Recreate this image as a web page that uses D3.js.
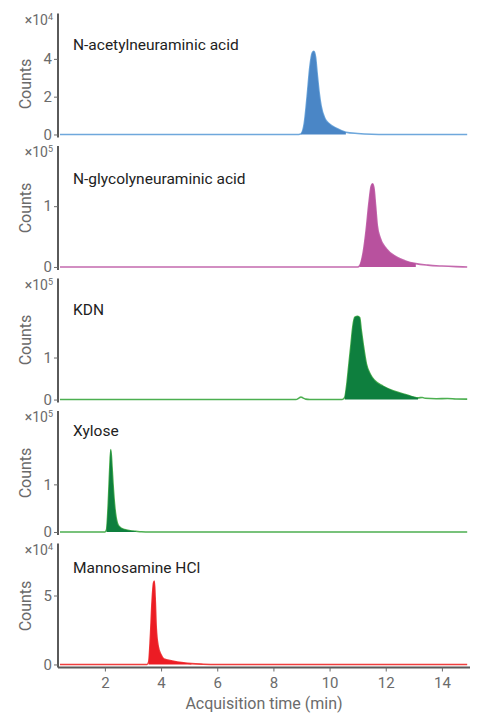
<!DOCTYPE html>
<html>
<head>
<meta charset="utf-8">
<script src="https://cdn.jsdelivr.net/npm/d3@7"></script>
<style>
  body { margin: 0; background: #fff; }
  svg { display: block; font-family: Roboto, "Noto Sans", sans-serif; }
</style>
</head>
<body>
<div id="chart"></div>
<script>
// Chromatogrammes empilés : un panneau par composé

const compounds = [
  "N-acetylneuraminic acid",
  "N-glycolyneuraminic acid",
  "KDN",
  "Xylose",
  "Mannosamine HCl"
];

// exposant du facteur ×10^n de chaque panneau
const exponents = [4, 5, 5, 5, 4];

// domaines Y (en unités ×10^n) et graduations
const yDomains = [[-0.16, 6.4], [-0.05, 1.99], [-0.07, 2.88], [-0.063, 2.54], [-0.22, 8.77]];
const yTicks = [[0, 2, 4], [0, 1], [0, 1], [0, 1], [0, 5]];

const xTicks = [2, 4, 6, 8, 10, 12, 14];

// fenêtre d'intégration (zone remplie), en minutes
const fillWindows = [[8.98, 10.58], [11.07, 13.07], [10.54, 13.15], [2.04, 3.1], [3.54, 5.08]];

// traces [temps (min), counts ×10^n]
const acetylTrace = [
  [0.4, 0], [8.9, 0], [8.98, 0.03], [9.1, 0.6], [9.2, 2.0], [9.3, 3.6], [9.38, 4.3],
  [9.44, 4.4], [9.5, 4.1], [9.56, 3.2], [9.63, 2.2], [9.7, 1.5], [9.83, 0.86],
  [10.0, 0.55], [10.24, 0.33], [10.58, 0.12], [11.0, 0.05], [11.5, 0.01], [12.0, 0], [14.9, 0]
];

const glycolylTrace = [
  [0.4, 0], [11.0, 0], [11.07, 0.02], [11.2, 0.25], [11.3, 0.6], [11.4, 1.05], [11.48, 1.33],
  [11.53, 1.37], [11.58, 1.3], [11.64, 1.0], [11.7, 0.68], [11.8, 0.48], [12.02, 0.3],
  [12.38, 0.165], [12.7, 0.1], [13.07, 0.055], [13.5, 0.03], [14.0, 0.015], [14.5, 0.005], [14.9, 0]
];

const kdnTrace = [
  [0.4, 0], [8.8, 0], [8.92, 0.04], [8.98, 0.06], [9.05, 0.04], [9.15, 0.01], [9.3, 0],
  [10.45, 0], [10.54, 0.05], [10.62, 0.4], [10.69, 0.85], [10.76, 1.3], [10.83, 1.75],
  [10.9, 1.96], [11.0, 1.98], [11.07, 1.95], [11.13, 1.64], [11.2, 1.3], [11.31, 0.85],
  [11.45, 0.6], [11.61, 0.45], [11.9, 0.32], [12.26, 0.21], [12.7, 0.12], [13.15, 0.04],
  [13.3, 0.05], [13.4, 0.03], [13.8, 0.02], [14.2, 0.025], [14.5, 0.015], [14.9, 0.01]
];

const xyloseTrace = [
  [0.4, 0], [2.0, 0], [2.06, 0.05], [2.12, 0.6], [2.17, 1.3], [2.21, 1.73], [2.25, 1.4],
  [2.29, 1.0], [2.34, 0.6], [2.4, 0.3], [2.5, 0.12], [2.7, 0.05], [3.0, 0.02], [3.1, 0.015],
  [3.3, 0.005], [3.6, 0], [14.9, 0]
];

const mannosamineTrace = [
  [0.4, 0], [3.5, 0], [3.56, 0.2], [3.62, 2.0], [3.68, 4.6], [3.73, 5.9], [3.76, 6.04],
  [3.79, 4.8], [3.83, 2.6], [3.9, 1.3], [4.0, 0.7], [4.1, 0.4], [4.4, 0.25], [4.8, 0.12],
  [5.08, 0.06], [5.5, 0.02], [6.0, 0], [14.9, 0]
];

const traces = [acetylTrace, glycolylTrace, kdnTrace, xyloseTrace, mannosamineTrace];

const fillColors = ["#4a86c6", "#b8519e", "#0e7f3e", "#0e7f3e", "#ec1c24"];
const lineColors = ["#6fa8dc", "#c46aae", "#4caf50", "#4caf50", "#ef3e3e"];

// Dimensions
const width = 479;
const height = 715;
const left = 58;
const right = 470;
const panelTop0 = 13.5;
const panelStep = 132.5;
const panelHeight = 124;

// placement des textes de chaque panneau (positionnés à la main dans l'original)
const titleBaselines = [50, 184, 315, 436, 573];
const countsCenters = [84, 208, 340, 473, 606];

const svg = d3.select("#chart")
  .append("svg")
  .attr("width", width)
  .attr("height", height);

const x = d3.scaleLinear().domain([0.33, 15.0]).range([left, right]);

const axisColor = "#5a5a5a";
const tickColor = "#6b6b6b";

compounds.forEach((name, i) => {
  const top = panelTop0 + panelStep * i;
  const bottom = top + panelHeight;

  const y = d3.scaleLinear().domain(yDomains[i]).range([bottom, top]);

  const g = svg.append("g");

  // trace complète
  const line = d3.line()
    .x(d => x(d[0]))
    .y(d => y(d[1]))
    .curve(d3.curveMonotoneX);

  g.append("path")
    .datum(traces[i])
    .attr("d", line)
    .attr("fill", "none")
    .attr("stroke", lineColors[i])
    .attr("stroke-width", 1.6);

  // zone intégrée
  const [s, e] = fillWindows[i];
  const area = d3.area()
    .defined(d => d[0] >= s && d[0] <= e)
    .x(d => x(d[0]))
    .y0(y(0))
    .y1(d => y(d[1]))
    .curve(d3.curveMonotoneX);

  g.append("path")
    .datum(traces[i])
    .attr("d", area)
    .attr("fill", fillColors[i]);

  // axe Y
  const yAxis = d3.axisLeft(y)
    .tickValues(yTicks[i])
    .tickSize(4)
    .tickPadding(2)
    .tickFormat(d3.format("d"));

  const ag = g.append("g")
    .attr("transform", `translate(${left},0)`)
    .call(yAxis);

  ag.select(".domain")
    .attr("d", `M0,${top}V${bottom}`)
    .attr("stroke", axisColor)
    .attr("stroke-width", 2);
  ag.selectAll(".tick line").attr("stroke", tickColor).attr("stroke-width", 1);
  ag.selectAll(".tick text")
    .attr("fill", tickColor)
    .style("font-size", "15px")
    .style("font-family", "Roboto, sans-serif");

  // facteur ×10^n
  const mult = g.append("text")
    .attr("x", left - 5)
    .attr("y", top + 11)
    .attr("text-anchor", "end")
    .attr("fill", tickColor)
    .style("font-size", "14px");
  mult.append("tspan").text("×10");
  mult.append("tspan")
    .attr("dy", "-5")
    .style("font-size", "9px")
    .text(exponents[i]);

  // titre Y
  g.append("text")
    .attr("transform", `translate(31,${countsCenters[i]}) rotate(-90)`)
    .attr("text-anchor", "middle")
    .attr("fill", tickColor)
    .style("font-size", "16px")
    .text("Counts");

  // nom du composé
  g.append("text")
    .attr("x", 73)
    .attr("y", titleBaselines[i])
    .attr("fill", "#222")
    .style("font-size", "15.5px")
    .text(name);

  // axe X sur le dernier panneau
  if (i === compounds.length - 1) {
    const xAxis = d3.axisBottom(x)
      .tickValues(xTicks)
      .tickSize(4)
      .tickPadding(6);

    const xg = g.append("g")
      .attr("transform", `translate(0,${bottom})`)
      .call(xAxis);

    xg.select(".domain")
      .attr("d", `M${left},0H${right}`)
      .attr("stroke", axisColor)
      .attr("stroke-width", 2);
    xg.selectAll(".tick line").attr("stroke", tickColor);
    xg.selectAll(".tick text")
      .attr("fill", tickColor)
      .style("font-size", "15px")
      .style("font-family", "Roboto, sans-serif");

    g.append("text")
      .attr("x", (left + right) / 2)
      .attr("y", bottom + 41)
      .attr("text-anchor", "middle")
      .attr("fill", tickColor)
      .style("font-size", "16px")
      .text("Acquisition time (min)");
  }
});
</script>
</body>
</html>
